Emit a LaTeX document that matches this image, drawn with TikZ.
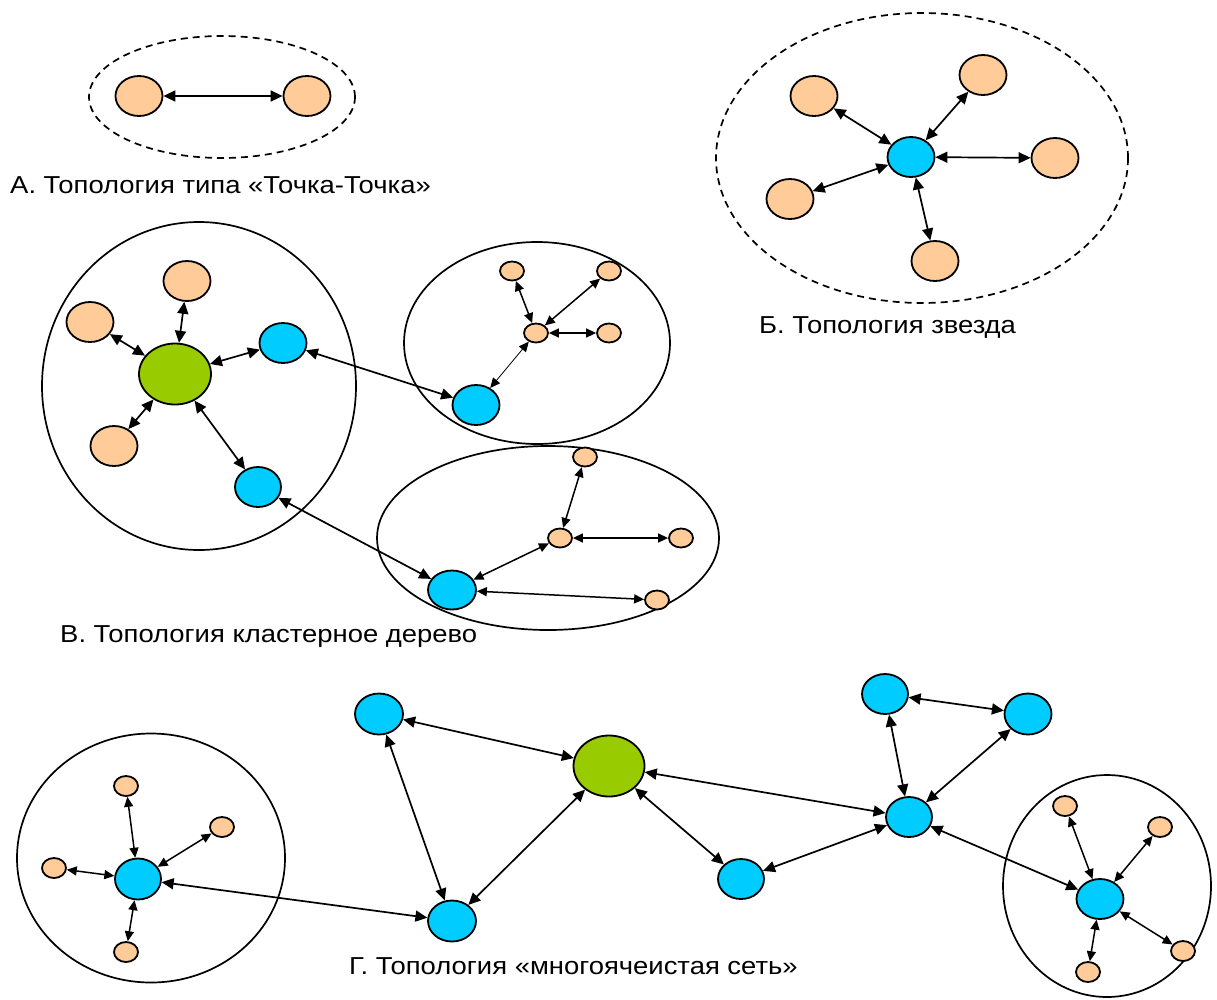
\documentclass[tikz,border=0pt]{standalone}
\usepackage{fontspec}
\setmainfont{Liberation Sans}[FakeStretch=1.12]
\usetikzlibrary{shapes.geometric,arrows.meta}
\definecolor{peach}{HTML}{FFCC99}
\definecolor{sky}{HTML}{00CCFF}
\definecolor{lime}{HTML}{99CC00}

\begin{document}
\begin{tikzpicture}[x=1pt,y=-1pt,
  dev/.style={ellipse, draw=black, line width=1.8pt, inner sep=0pt},
  endnode/.style={dev, fill=peach},
  router/.style={dev, fill=sky},
  coord/.style={dev, fill=lime},
  sz/.style 2 args={minimum width=#1pt, minimum height=#2pt},
  link/.style={line width=1.7pt, {Triangle[length=12pt,width=11pt]}-{Triangle[length=12pt,width=11pt]}},
  slink/.style={line width=1.5pt, {Triangle[length=10pt,width=9pt]}-{Triangle[length=10pt,width=9pt]}},
  zone/.style={ellipse, draw=black, line width=1.7pt, inner sep=0pt},
  dzone/.style={zone, dash pattern=on 7pt off 5pt},
  caption/.style={anchor=west, inner sep=0pt, font=\fontsize{24.5}{28}\selectfont}
]
\useasboundingbox (0,0) rectangle (1217,999);

% ---------- zones ----------
\node[dzone, sz={266}{122}] (zA) at (222,97) {};
\node[dzone, sz={412}{290}] (zB) at (922,158) {};
\node[zone, sz={314}{328}] (zV1) at (199,386) {};
\node[zone, sz={266}{202}] (zV2) at (537,343) {};
\node[zone, sz={342}{184}] (zV3) at (548,538) {};
\node[zone, sz={268}{249}] (zG1) at (151,858) {};
\node[zone, sz={208}{222}] (zG2) at (1107,886) {};

% ---------- A: point-to-point ----------
\node[endnode, sz={47}{40}] (a1) at (139,96) {};
\node[endnode, sz={47}{40}] (a2) at (307,96) {};
\draw[link] (a1) -- (a2);
\node[caption] (capA) at (10,185) {А. Топология типа «Точка-Точка»};

% ---------- Б: star ----------
\node[router, sz={47}{40}] (bc) at (911,157) {};
\node[endnode, sz={47}{40}] (b1) at (814,96) {};
\node[endnode, sz={47}{40}] (b2) at (983,75) {};
\node[endnode, sz={47}{40}] (b3) at (1055,158) {};
\node[endnode, sz={47}{40}] (b4) at (790,199) {};
\node[endnode, sz={47}{40}] (b5) at (935,261) {};
\foreach \n in {b1,b2,b3,b4,b5} \draw[link] (bc) -- (\n);
\node[caption] (capB) at (759,328) {Б. Топология звезда};

% ---------- В: cluster tree ----------
\node[coord, sz={72}{61}] (vg) at (175,374) {};
\node[endnode, sz={47}{40}] (v1) at (187,281) {};
\node[endnode, sz={47}{40}] (v2) at (90,322) {};
\node[endnode, sz={47}{40}] (v3) at (114,446) {};
\node[router, sz={47}{40}] (vr1) at (283,343) {};
\node[router, sz={46}{40}] (vr2) at (258,487) {};
\foreach \n in {v1,v2,v3,vr1,vr2} \draw[link] (vg) -- (\n);

% upper cluster
\node[router, sz={47}{40}] (ur) at (476,405) {};
\node[endnode, sz={24}{19}] (uh) at (536,333) {};
\node[endnode, sz={24}{19}] (u1) at (512,271) {};
\node[endnode, sz={24}{19}] (u2) at (609,271) {};
\node[endnode, sz={24}{19}] (u3) at (609,333) {};
\foreach \n in {u1,u2,u3} \draw[slink] (uh) -- (\n);
\draw[slink, line width=0.8pt] (uh) -- (ur);
\draw[link] (vr1) -- (ur);

% lower cluster
\node[router, sz={48}{39}] (lr) at (452,590) {};
\node[endnode, sz={24}{19}] (lh) at (560,538) {};
\node[endnode, sz={24}{19}] (l1) at (585,457) {};
\node[endnode, sz={24}{19}] (l2) at (681,538) {};
\node[endnode, sz={24}{19}] (l3) at (657,600) {};
\draw[slink] (lh) -- (l1);
\draw[slink] (lh) -- (l2);
\draw[slink] (lr) -- (lh);
\draw[slink] (lr) -- (l3);
\draw[link] (vr2) -- (lr);
\node[caption] (capV) at (60,637) {В. Топология кластерное дерево};

% ---------- Г: mesh ----------
% left cluster
\node[router, sz={46}{41}] (gh1) at (138,879) {};
\node[endnode, sz={24}{20}] (g1) at (126,786) {};
\node[endnode, sz={24}{20}] (g2) at (222,827) {};
\node[endnode, sz={24}{20}] (g3) at (54,868) {};
\node[endnode, sz={24}{20}] (g4) at (126,952) {};
\foreach \n in {g1,g2,g3,g4} \draw[slink] (gh1) -- (\n);

% mesh core
\node[coord, sz={71}{61}] (gg) at (609,766) {};
\node[router, sz={48}{41}] (m1) at (379,714) {};
\node[router, sz={48}{41}] (m2) at (452,921) {};
\node[router, sz={46}{40}] (m3) at (741,879) {};
\node[router, sz={46}{40}] (m4) at (909,817) {};
\node[router, sz={46}{40}] (m5) at (885,694) {};
\node[router, sz={47}{41}] (m6) at (1028,714) {};
\draw[link] (gh1) -- (m2);
\draw[link] (m1) -- (gg);
\draw[link] (m1) -- (m2);
\draw[link] (gg) -- (m2);
\draw[link] (gg) -- (m4);
\draw[link] (gg) -- (m3);
\draw[link] (m3) -- (m4);
\draw[link] (m4) -- (m5);
\draw[link] (m4) -- (m6);
\draw[link] (m5) -- (m6);

% right cluster
\node[router, sz={47}{40}] (gh2) at (1100,899) {};
\node[endnode, sz={24}{20}] (h1) at (1065,806) {};
\node[endnode, sz={24}{20}] (h2) at (1160,827) {};
\node[endnode, sz={24}{20}] (h3) at (1088,972) {};
\node[endnode, sz={24}{20}] (h4) at (1183,951) {};
\foreach \n in {h1,h2,h3,h4} \draw[slink] (gh2) -- (\n);
\draw[link] (m4) -- (gh2);
\node[caption] (capG) at (349,966) {Г. Топология «многоячеистая сеть»};
\end{tikzpicture}
\end{document}
